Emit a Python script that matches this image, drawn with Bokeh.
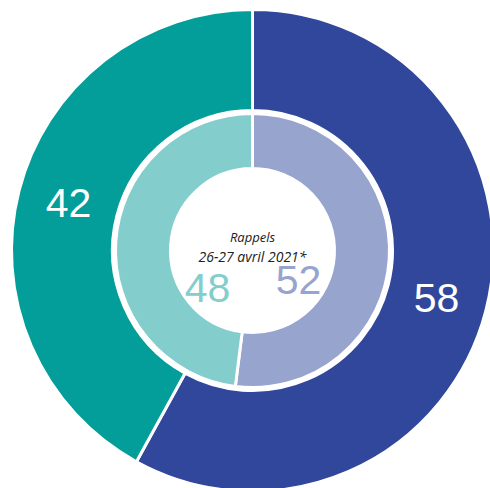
import math
from bokeh.plotting import figure
from bokeh.models import Range1d
from bokeh.core.properties import value
from bokeh.embed import file_html
from bokeh.resources import INLINE

# Data
outer_labels = ["58", "42"]
outer_values = [58, 42]
outer_colors = ["#31479b", "#039e9a"]
inner_labels = ["52", "48"]
inner_values = [52, 48]
inner_colors = ["#97a4cd", "#83cecd"]
center_title = "Rappels"
center_sub = "26-27 avril 2021*"

CX, CY = 252, 238

p = figure(width=490, height=488, output_backend="svg", toolbar_location=None,
           x_range=Range1d(0, 490), y_range=Range1d(0, 488), min_border=0)
p.axis.visible = False
p.grid.visible = False
p.outline_line_color = None
p.background_fill_color = "white"
p.border_fill_color = "white"


def angles(vals):
    tot = sum(vals)
    starts, ends = [], []
    a = math.pi / 2
    for v in vals:
        starts.append(a)
        a = a - 2 * math.pi * v / tot
        ends.append(a)
    return starts, ends


os_, oe = angles(outer_values)
p.annular_wedge(x=[CX] * 2, y=[CY] * 2, inner_radius=140, outer_radius=241,
                start_angle=os_, end_angle=oe, direction="clock",
                fill_color=outer_colors, line_color="white", line_width=3)

is_, ie = angles(inner_values)
p.annular_wedge(x=[CX] * 2, y=[CY] * 2, inner_radius=82, outer_radius=137,
                start_angle=is_, end_angle=ie, direction="clock",
                fill_color=inner_colors, line_color="white", line_width=3)

# Outer labels at mid-angle
ox, oy = [], []
for s, e in zip(os_, oe):
    m = (s + e) / 2
    ox.append(CX + 190 * math.cos(m))
    oy.append(CY + 190 * math.sin(m))
p.text(x=ox, y=oy, text=outer_labels, text_color="white",
       text_font=value("Liberation Sans"), text_font_size="41px",
       text_align="center", text_baseline="middle")

# Inner labels (placed in the hole)
p.text(x=[CX + 46, CX - 45], y=[CY - 29, CY - 37], text=inner_labels,
       text_color=inner_colors, text_font=value("Liberation Sans"),
       text_font_size="41px", text_align="center", text_baseline="middle")

p.text(x=[CX], y=[CY + 14], text=[center_title], text_color="#222222",
       text_font=value("Open Sans"), text_font_style="italic",
       text_font_size="13px", text_align="center", text_baseline="middle")
p.text(x=[CX], y=[CY - 6], text=[center_sub], text_color="#222222",
       text_font=value("Open Sans"), text_font_style="italic",
       text_font_size="14px", text_align="center", text_baseline="middle")

open("out.html", "w").write(file_html(p, INLINE))
